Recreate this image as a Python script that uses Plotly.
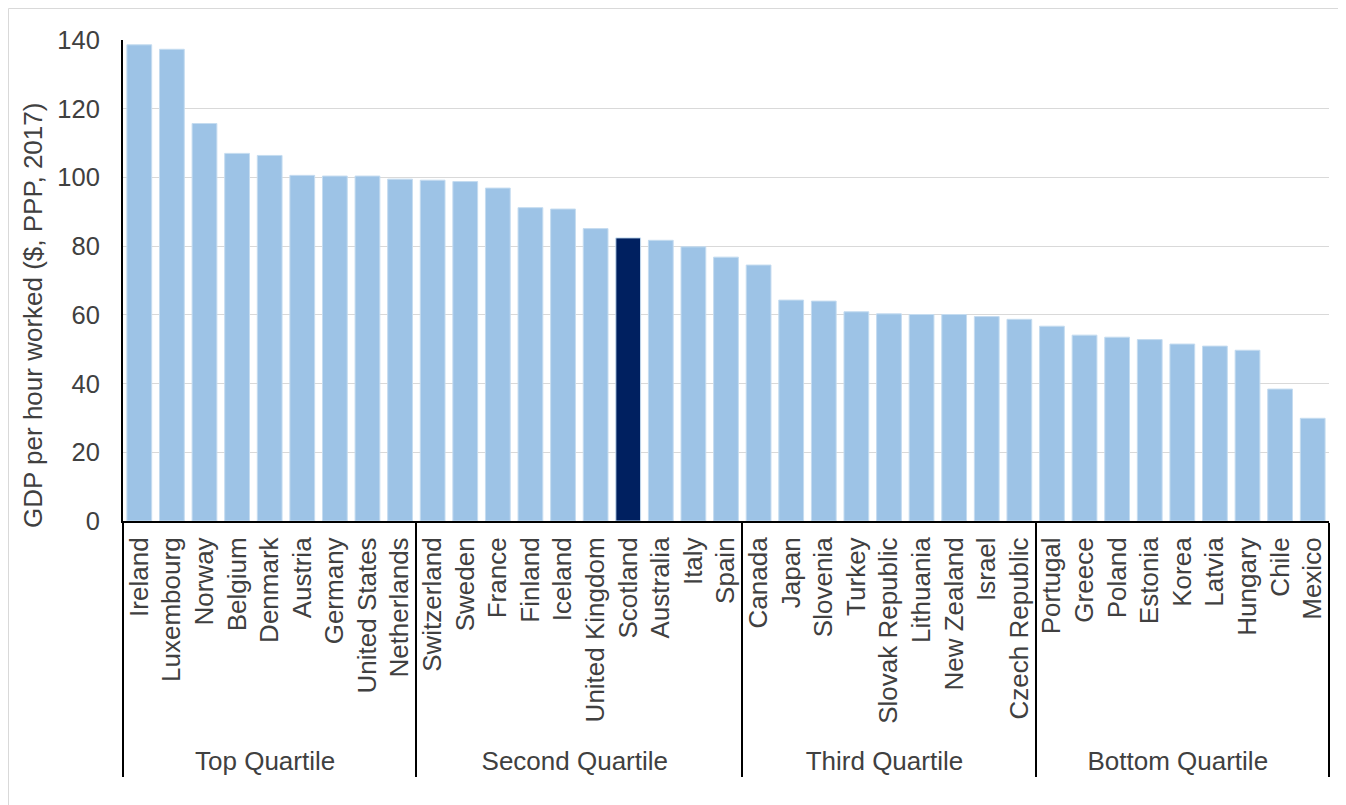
import plotly.graph_objects as go

countries = ["Ireland", "Luxembourg", "Norway", "Belgium", "Denmark", "Austria", "Germany",
             "United States", "Netherlands",
             "Switzerland", "Sweden", "France", "Finland", "Iceland", "United Kingdom", "Scotland",
             "Australia", "Italy", "Spain",
             "Canada", "Japan", "Slovenia", "Turkey", "Slovak Republic", "Lithuania", "New Zealand",
             "Israel", "Czech Republic",
             "Portugal", "Greece", "Poland", "Estonia", "Korea", "Latvia", "Hungary", "Chile", "Mexico"]
gdp_per_hour = [138.6, 137.3, 115.7, 107.0, 106.4, 100.6, 100.4, 100.4, 99.5,
                99.2, 98.8, 96.9, 91.2, 90.8, 85.1, 82.4, 81.7, 79.8, 76.8,
                74.5, 64.3, 64.0, 60.9, 60.3, 60.1, 60.1, 59.5, 58.7,
                56.7, 54.1, 53.5, 52.8, 51.5, 50.9, 49.7, 38.4, 29.9]
quartile_names = ["Top Quartile", "Second Quartile", "Third Quartile", "Bottom Quartile"]
quartile_sizes = [9, 10, 9, 9]
highlight = "Scotland"
y_ticks = [0, 20, 40, 60, 80, 100, 120, 140]
y_title = "GDP per hour worked ($, PPP, 2017)"

quartile_of = []
for name, n in zip(quartile_names, quartile_sizes):
    quartile_of += [name] * n

LIGHT = "#9DC3E6"
DARK = "#002060"
TEXT = "#404040"
colors = [DARK if c == highlight else LIGHT for c in countries]

fig = go.Figure(go.Bar(
    x=[quartile_of, countries],
    y=gdp_per_hour,
    marker=dict(color=colors, line=dict(color="#C5DCF0", width=1)),
    hoverinfo="x+y",
))

# page has an 8px body margin; figure sized to fit the 1346x805 window
W, H = 1338, 797
ml, mr, mt, mb = 115, 17, 32, 284
pw, ph = W - ml - mr, H - mt - mb

def px_x(px):
    return (px - ml) / pw

def px_y(py):
    return (H - mb - py) / ph

fig.update_layout(
    width=W, height=H,
    margin=dict(l=ml, r=mr, t=mt, b=mb),
    paper_bgcolor="white", plot_bgcolor="white",
    bargap=0.24,
    showlegend=False,
    font=dict(family="Liberation Sans, Arial, sans-serif", color=TEXT, size=26),
)
fig.update_yaxes(
    range=[0, 140], tickvals=y_ticks, showgrid=True, gridcolor="#D9D9D9", gridwidth=1,
    zeroline=False, showline=True, linecolor="black", linewidth=2, ticks="",
    tickfont=dict(size=25.5, color=TEXT), ticklabelstandoff=16,
)
fig.update_xaxes(
    showline=True, linecolor="black", linewidth=2, ticks="", tickangle=-90,
    tickfont=dict(size=26, color=TEXT), ticklabelstandoff=4,
    showdividers=True, dividercolor="black", dividerwidth=1.5,
)

fig.add_annotation(
    text=y_title, textangle=-90, showarrow=False,
    xref="paper", yref="paper", x=px_x(25), y=px_y(308),
    xanchor="center", yanchor="middle",
    font=dict(size=26, color=TEXT),
)

# chart-area border
fig.add_shape(type="rect", xref="paper", yref="paper",
              x0=px_x(0.5), x1=px_x(1332),
              y0=px_y(H + 20), y1=px_y(0.5),
              line=dict(color="#D9D9D9", width=1), layer="below")

fig.write_html("out.html")
